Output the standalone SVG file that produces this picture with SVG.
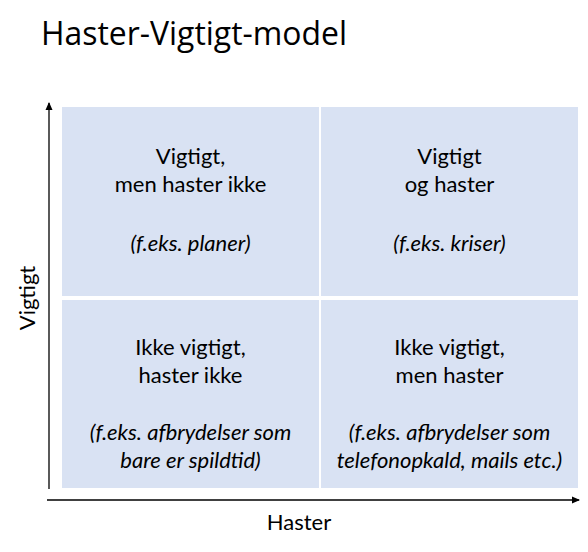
<svg xmlns="http://www.w3.org/2000/svg" width="588" height="552" viewBox="0 0 588 552">
<style>
.cell{fill:#D9E2F3;}
.t{font-family:Lato,"Open Sans","Liberation Sans",sans-serif;font-size:22px;fill:#000;text-anchor:middle;}
.i{font-style:italic;}
.ax{stroke:#000;stroke-width:1.3;fill:none;}
</style>
<defs>
<marker id="ah" markerWidth="8" markerHeight="8" refX="7" refY="4" orient="auto" markerUnits="userSpaceOnUse">
<path d="M0,0.5 L8,4 L0,7.5 Z" fill="#000"/>
</marker>
</defs>
<rect width="588" height="552" fill="#fff"/>
<text x="41" y="45" font-family="'Open Sans','Liberation Sans',sans-serif" font-size="33" font-weight="400" textLength="306" lengthAdjust="spacingAndGlyphs">Haster-Vigtigt-model</text>
<g id="q-tl">
<rect class="cell" x="62" y="107" width="257" height="189"/>
<text class="t" x="190.5" y="164">Vigtigt,</text>
<text class="t" x="190.5" y="192">men haster ikke</text>
<text class="t i" x="190.5" y="251">(f.eks. planer)</text>
</g>
<g id="q-tr">
<rect class="cell" x="321" y="107" width="257" height="189"/>
<text class="t" x="449.5" y="164">Vigtigt</text>
<text class="t" x="449.5" y="192">og haster</text>
<text class="t i" x="449.5" y="251">(f.eks. kriser)</text>
</g>
<g id="q-bl">
<rect class="cell" x="62" y="300" width="257" height="188"/>
<text class="t" x="190.5" y="355">Ikke vigtigt,</text>
<text class="t" x="190.5" y="383">haster ikke</text>
<text class="t i" x="190.5" y="440">(f.eks. afbrydelser som</text>
<text class="t i" x="190.5" y="468">bare er spildtid)</text>
</g>
<g id="q-br">
<rect class="cell" x="321" y="300" width="257" height="188"/>
<text class="t" x="449.5" y="355">Ikke vigtigt,</text>
<text class="t" x="449.5" y="383">men haster</text>
<text class="t i" x="449.5" y="440">(f.eks. afbrydelser som</text>
<text class="t i" x="449.5" y="468">telefonopkald, mails etc.)</text>
</g>
<g id="connectors">
<line class="ax" x1="49" y1="489" x2="49" y2="103" marker-end="url(#ah)"/>
<line class="ax" x1="47" y1="500" x2="579" y2="500" marker-end="url(#ah)"/>
</g>
<g id="labels">
<text class="t" x="299" y="530">Haster</text>
<text class="t" transform="translate(35,298) rotate(-90)" x="0" y="0">Vigtigt</text>
</g>
</svg>
